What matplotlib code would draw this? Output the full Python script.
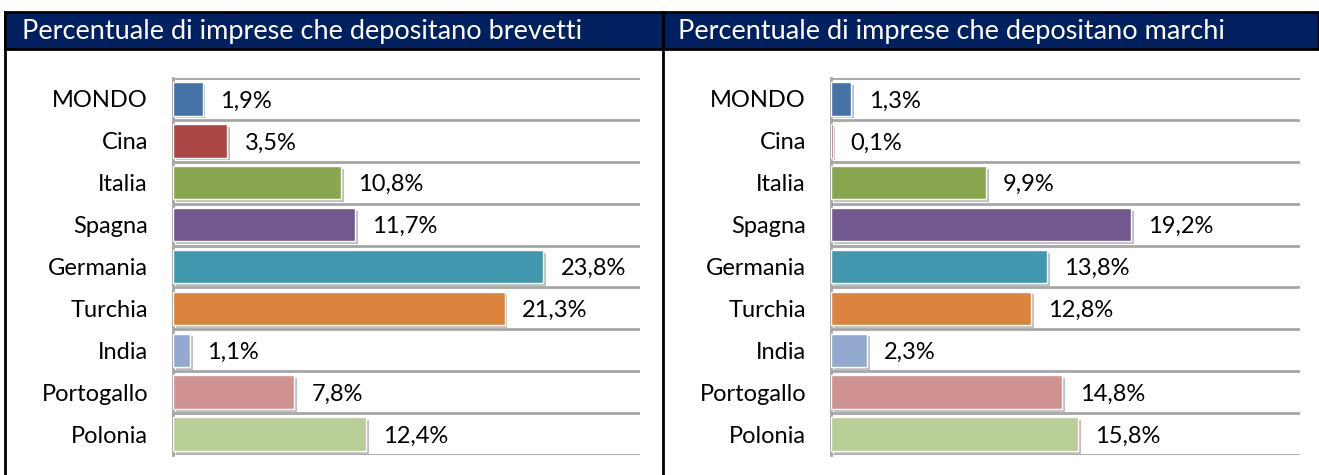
import matplotlib.pyplot as plt
import matplotlib.patheffects as pe
from matplotlib.patches import Rectangle
from matplotlib.lines import Line2D

# dati
paesi = ['MONDO', 'Cina', 'Italia', 'Spagna', 'Germania', 'Turchia', 'India', 'Portogallo', 'Polonia']
brevetti = [1.9, 3.5, 10.8, 11.7, 23.8, 21.3, 1.1, 7.8, 12.4]
marchi = [1.3, 0.1, 9.9, 19.2, 13.8, 12.8, 2.3, 14.8, 15.8]
colori = ['#4572A7', '#AA4643', '#89A54E', '#71588F', '#4198AF',
          '#DB843D', '#93A9CF', '#D19392', '#B9CD96']
titoli = ['Percentuale di imprese che depositano brevetti',
          'Percentuale di imprese che depositano marchi']

plt.rcParams['font.family'] = ['Lato', 'DejaVu Sans']

W, H = 1319, 475
fig = plt.figure(figsize=(W / 100, H / 100), dpi=100)

def fx(px):
    return px / W

def fy(py):
    return 1 - py / H

# intestazione blu e cornice
fig.patches.append(Rectangle((fx(5), fy(49)), fx(W - 5), fy(12) - fy(49),
                             transform=fig.transFigure, facecolor='#002060',
                             edgecolor='black', linewidth=2, zorder=0))
for x in [5, 663]:
    fig.lines.append(Line2D([fx(x), fx(x)], [0, fy(12)], transform=fig.transFigure,
                            color='black', linewidth=2))
fig.text(fx(22), fy(32), titoli[0], color='white', fontsize=19.5, va='center', ha='left')
fig.text(fx(678), fy(32), titoli[1], color='white', fontsize=19.5, va='center', ha='left')

def pannello(ax, valori):
    y = range(len(paesi))
    bars = ax.barh(y, valori, height=0.8, color=colori, edgecolor='white', linewidth=1, zorder=3)
    for b in bars:
        b.set_path_effects([pe.SimplePatchShadow(offset=(2, -2), shadow_rgbFace='#808080', alpha=0.5),
                            pe.Normal()])
    for i, v in enumerate(valori):
        ax.text(v + 1.1, i + 0.05, f'{v:.1f}'.replace('.', ',') + '%',
                va='center', ha='left', fontsize=17, color='black')
    ax.set_xlim(0, 30)
    ax.set_ylim(len(paesi) - 0.5, -0.5)
    ax.hlines([i - 0.5 for i in range(len(paesi) + 1)], 0, 30,
              color='#a6a6a6', linewidth=2, zorder=1)
    ax.set_yticks(list(y))
    ax.set_yticklabels(paesi, fontsize=17)
    ax.tick_params(axis='y', length=0, pad=18)
    ax.set_xticks([])
    for s in ['top', 'right', 'bottom']:
        ax.spines[s].set_visible(False)
    ax.spines['left'].set_color('#a6a6a6')
    ax.spines['left'].set_linewidth(2)

ax1 = fig.add_axes([fx(173), fy(455), fx(467), fy(78) - fy(455)])
pannello(ax1, brevetti)
ax2 = fig.add_axes([fx(831), fy(455), fx(469), fy(78) - fy(455)])
pannello(ax2, marchi)

fig.savefig('out.png', dpi=100)
